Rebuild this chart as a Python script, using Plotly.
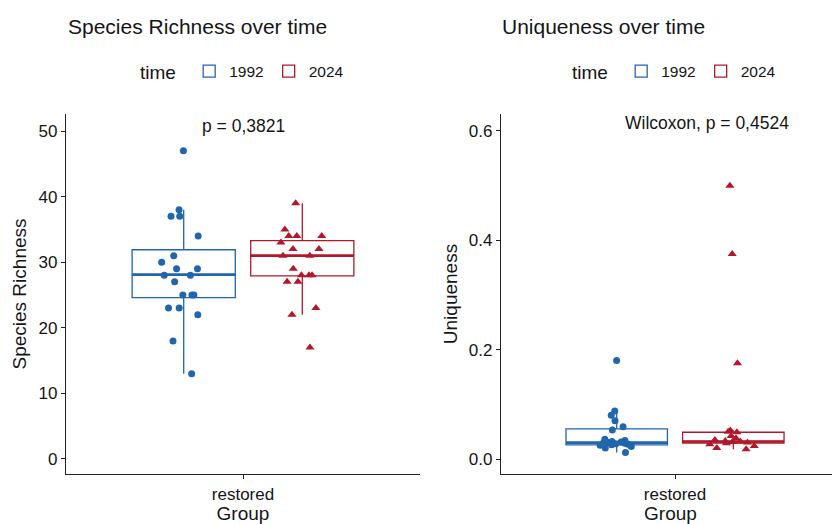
import plotly.graph_objects as go

# ---------------- data ----------------
group = "restored"
years = ["1992", "2024"]

rich_1992 = [47, 38, 37, 37, 34, 31, 30, 29, 29, 28, 28, 27, 25, 25, 25, 23, 23, 22, 18, 13]
rich_2024 = [39, 35, 34, 34, 34, 33, 32, 32, 31, 31, 29, 28, 28, 28, 27, 27, 23, 22, 17]

uniq_1992 = [0.18, 0.088, 0.080, 0.070, 0.059, 0.053, 0.036, 0.034, 0.032, 0.031,
             0.030, 0.030, 0.029, 0.028, 0.027, 0.026, 0.025, 0.023, 0.020, 0.012]
uniq_2024 = [0.50, 0.375, 0.175, 0.052, 0.050, 0.049, 0.042, 0.038, 0.035, 0.033,
             0.032, 0.031, 0.030, 0.029, 0.027, 0.024, 0.020, 0.018]

# box statistics as drawn (lower whisker, q1, median, q3, upper whisker)
rich_stats = {"1992": [13, 24.6, 28.1, 31.9, 38.0], "2024": [22.0, 27.9, 31.0, 33.3, 39.0]}
uniq_stats = {"1992": [0.012, 0.026, 0.030, 0.055, 0.085], "2024": [0.018, 0.029, 0.032, 0.049, 0.052]}

rich_ticks = [0, 10, 20, 30, 40, 50]
uniq_ticks = [0.0, 0.2, 0.4, 0.6]
uniq_ticktext = ["0.0", "0.2", "0.4", "0.6"]

p_rich = "p = 0,3821"
p_uniq = "Wilcoxon, p = 0,4524"

# ---------------- styling ----------------
FONT = "Liberation Sans, Arial, sans-serif"
TXT = "#151515"
colors = {"1992": "#2166AC", "2024": "#B2182B"}
symbols = {"1992": "circle", "2024": "triangle-up"}

OFF = 8                      # page margin of the browser
W, H = 840 - OFF, 524 - OFF
PLOT_TOP, PLOT_BOT = 114 - OFF, 474 - OFF
T, B = PLOT_TOP, H - PLOT_BOT
PH = PLOT_BOT - PLOT_TOP


def sx(s):
    return (s - OFF) / W


def sy(s):
    return (PLOT_BOT - (s - OFF)) / PH


fig = go.Figure()


def add_panel(xa, ya, samples, stats, legend_name):
    for yr in years:
        lo, q1, med, q3, hi = stats[yr]
        c = colors[yr]
        fig.add_trace(go.Box(
            x=[group], q1=[q1], median=[med], q3=[q3], lowerfence=[lo], upperfence=[hi],
            name=yr, legend=legend_name, showlegend=True, legendgroup=yr,
            offsetgroup=yr, alignmentgroup=xa,
            fillcolor="white", line=dict(color=c, width=1.3), whiskerwidth=0,
            boxpoints=False, xaxis=xa, yaxis=ya, hoverinfo="skip"))
        fig.add_trace(go.Box(
            x=[group], q1=[med], median=[med], q3=[med], lowerfence=[med], upperfence=[med],
            name=yr, showlegend=False, offsetgroup=yr, alignmentgroup=xa,
            fillcolor="rgba(0,0,0,0)", line=dict(color=c, width=2.6), whiskerwidth=0,
            boxpoints=False, xaxis=xa, yaxis=ya, hoverinfo="skip"))
        vals = samples[yr]
        fig.add_trace(go.Box(
            x=[group] * len(vals), y=vals, name=yr, showlegend=False,
            offsetgroup=yr, alignmentgroup=xa,
            fillcolor="rgba(0,0,0,0)", line=dict(color="rgba(0,0,0,0)", width=0),
            boxpoints="all", jitter=0.55, pointpos=0,
            marker=dict(color=c, symbol=symbols[yr], size=7 if yr == "1992" else 8,
                        line=dict(width=0)),
            xaxis=xa, yaxis=ya))


add_panel("x", "y", {"1992": rich_1992, "2024": rich_2024}, rich_stats, "legend")
add_panel("x2", "y2", {"1992": uniq_1992, "2024": uniq_2024}, uniq_stats, "legend2")

axis_common = dict(showline=True, linecolor="#222", linewidth=1.3, ticks="outside",
                   ticklen=4, tickcolor="#222", tickwidth=1.2, showgrid=False, zeroline=False,
                   tickfont=dict(family=FONT, size=17, color=TXT))
title_font = dict(family=FONT, size=19, color=TXT)

fig.update_layout(
    width=W, height=H,
    margin=dict(l=0, r=0, t=T, b=B),
    paper_bgcolor="white", plot_bgcolor="white",
    boxmode="group", boxgap=0.33, boxgroupgap=0.13,
    xaxis=dict(domain=[sx(66), sx(420)], range=[-0.5, 0.5], type="category", **axis_common,
               title=dict(text="Group", font=title_font, standoff=2)),
    yaxis=dict(range=[-2.3, 52.6], tickvals=rich_ticks, **axis_common,
               title=dict(text="Species Richness", font=title_font, standoff=6)),
    xaxis2=dict(domain=[sx(501), 1.0], range=[-0.5, 0.474], type="category", anchor="y2",
                **axis_common, title=dict(text="Group", font=title_font, standoff=2)),
    yaxis2=dict(range=[-0.0274, 0.631], tickvals=uniq_ticks, ticktext=uniq_ticktext,
                anchor="x2", **axis_common,
                title=dict(text="Uniqueness", font=title_font, standoff=6)),
    legend=dict(orientation="h", x=sx(138), y=sy(72), xanchor="left", yanchor="middle",
                title=dict(text="time ", font=dict(family=FONT, size=19, color=TXT), side="left"),
                font=dict(family=FONT, size=15.5, color=TXT), itemwidth=30,
                bgcolor="rgba(0,0,0,0)"),
    legend2=dict(orientation="h", x=sx(570), y=sy(72), xanchor="left", yanchor="middle",
                 title=dict(text="time ", font=dict(family=FONT, size=19, color=TXT), side="left"),
                 font=dict(family=FONT, size=15.5, color=TXT), itemwidth=30,
                 bgcolor="rgba(0,0,0,0)"),
    annotations=[
        dict(text="Species Richness over time", x=sx(66), y=sy(27), xref="paper", yref="paper",
             xanchor="left", yanchor="middle", showarrow=False,
             font=dict(family=FONT, size=21, color=TXT)),
        dict(text="Uniqueness over time", x=sx(500), y=sy(27), xref="paper", yref="paper",
             xanchor="left", yanchor="middle", showarrow=False,
             font=dict(family=FONT, size=21, color=TXT)),
        dict(text=p_rich, x=group, y=sy(126), xref="x", yref="paper",
             xanchor="center", yanchor="middle", showarrow=False,
             font=dict(family=FONT, size=17.5, color=TXT)),
        dict(text=p_uniq, x=sx(707), y=sy(123), xref="paper", yref="paper",
             xanchor="center", yanchor="middle", showarrow=False,
             font=dict(family=FONT, size=17.5, color=TXT)),
    ],
)

fig.write_html("out.html")
